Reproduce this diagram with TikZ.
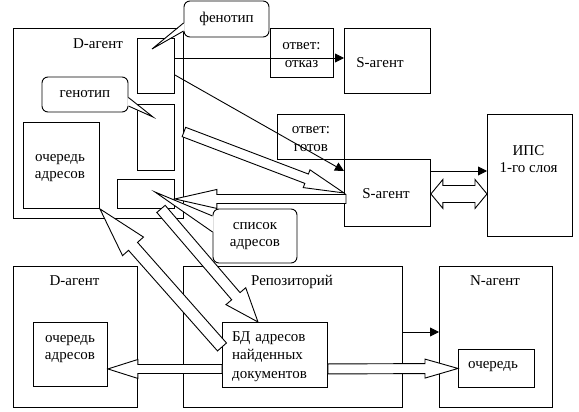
\documentclass[tikz,border=0pt]{standalone}
\usepackage{fontspec}
\setmainfont{Liberation Serif}
\usetikzlibrary{calc,arrows.meta}
\tikzset{
  box/.style={draw, line width=0.9pt, inner sep=0pt, anchor=north west},
  txt/.style={font=\fontsize{15pt}{17.5pt}\selectfont, align=center, inner sep=0pt},
  conn/.style={line width=0.9pt, -{Triangle[length=9pt,width=9pt]}},
  barrow/.style={draw, fill=white, line width=0.9pt, line join=miter},
  callout/.style={draw, fill=white, line width=0.9pt, rounded corners=6pt, inner sep=0pt,
    font=\fontsize{15pt}{17pt}\selectfont, align=center},
  wedgeline/.style={line width=0.9pt, line join=miter},
}
\newcommand\blockarr[5]{%
  \path ($(#2)!#5!(#1)$) coordinate (bab);
  \draw[barrow] ($(#1)!#3!90:(#2)$) -- ($(bab)!#3!90:(#2)$) -- ($(bab)!#4!90:(#2)$) -- (#2)
    -- ($(bab)!#4!-90:(#2)$) -- ($(bab)!#3!-90:(#2)$) -- ($(#1)!#3!-90:(#2)$) -- cycle;}
\begin{document}
\begin{tikzpicture}[x=1pt,y=-1pt]
\fill[white] (0,0) rectangle (579,412);
\useasboundingbox (0,0) rectangle (579,412);

% ---- top D-agent ----
\node[box, minimum width=170pt, minimum height=190pt] (dA) at (13,28) {};
\node[txt, anchor=base] (dAt) at (98,49) {D-агент};
\node[box, minimum width=37pt, minimum height=55pt] (phen) at (137,38) {};
\node[box, minimum width=37pt, minimum height=66pt] (gen) at (137,104) {};
\node[box, minimum width=57pt, minimum height=29pt] (sbox) at (117,179) {};
\node[box, minimum width=76pt, minimum height=86pt] (q1) at (23,122) {};
\node[txt] (q1t) at (60,168) {очередь\\адресов};

% ---- S-agents, answers, IPS ----
\node[box, minimum width=63pt, minimum height=49pt] (otk) at (270,28) {};
\node[txt] (otkt) at (301.5,55) {ответ:\\отказ};
\node[box, minimum width=86pt, minimum height=65pt] (S1) at (344,28) {};
\node[txt, anchor=base] (S1t) at (380,68) {S-агент};
\node[box, minimum width=67pt, minimum height=45pt] (got) at (277,114) {};
\node[txt] (gott) at (311,139) {ответ:\\готов};
\node[box, minimum width=86pt, minimum height=67pt] (S2) at (344,159) {};
\node[txt, anchor=base] (S2t) at (386,198) {S-агент};
\node[box, minimum width=85pt, minimum height=122pt] (IPS) at (487,114) {};
\node[txt] (IPSt) at (528.5,159) {ИПС\\1-го слоя};

% ---- bottom row ----
\node[box, minimum width=124pt, minimum height=141pt] (dB) at (13,266) {};
\node[txt, anchor=base] (dBt) at (74.5,285) {D-агент};
\node[box, minimum width=74pt, minimum height=64pt] (q2) at (33,322) {};
\node[txt] (q2t) at (70,349) {очередь\\адресов};
\node[box, minimum width=219pt, minimum height=141pt] (repo) at (183,266) {};
\node[txt, anchor=base] (repot) at (292,285) {Репозиторий};
\node[box, minimum width=105pt, minimum height=65pt] (BD) at (222,322) {};
\node[txt, anchor=north west, align=left, text width=84pt, font=\fontsize{15pt}{18.5pt}\selectfont] (BDt) at (232,331)
  {\makebox[82pt][s]{БД адресов}\\найденных\\документов};
\node[box, minimum width=113pt, minimum height=141pt] (N) at (439,266) {};
\node[txt, anchor=base] (Nt) at (495,285) {N-агент};
\node[box, minimum width=76pt, minimum height=38pt] (q3) at (458,349) {};
\node[txt] (q3t) at (493,367) {очередь};

% ---- thin connectors ----
\coordinate (t1) at ([yshift=-20pt]phen.north east);
\draw[conn] (t1) -- (t1 -| S1.west);
\coordinate (t2a) at ([yshift=-37pt]phen.north east);
\coordinate (t2b) at ([yshift=-12pt]S2.north west);
\draw[conn] (t2a) -- (t2b);
\coordinate (t3) at ([yshift=-12pt]S2.north east);
\draw[conn] (t3) -- (t3 -| IPS.west);
\coordinate (t4) at ([yshift=-66pt]repo.north east);
\draw[conn] (t4) -- (t4 -| N.west);

% ---- block arrows ----
\coordinate (aCs) at ([yshift=-104pt]dA.north east);
\blockarr{aCs}{S2.west}{5pt}{9.5pt}{40pt}
\coordinate (aDs) at ([xshift=2pt,yshift=-6pt]S2.west);
\coordinate (aDt) at (sbox.east |- aDs);
\blockarr{aDs}{aDt}{4.5pt}{9.5pt}{42pt}
\coordinate (aAs) at ([xshift=44pt]sbox.south west);
\coordinate (aAt) at ([xshift=36pt]BD.north west);
\blockarr{aAs}{aAt}{5.5pt}{13pt}{34pt}
\coordinate (aBs) at ([yshift=8pt]BD.west);
\blockarr{aBs}{q1.south east}{6pt}{14pt}{50pt}
\coordinate (aFs) at ([yshift=-14pt]BD.west);
\coordinate (aFt) at (q2.east |- aFs);
\blockarr{aFs}{aFt}{4.5pt}{9.5pt}{30pt}
\coordinate (aGs) at (BD.east |- aFs);
\blockarr{aGs}{q3.west}{5pt}{9.5pt}{33pt}
% double arrow S-agent <-> IPS
\coordinate (eL) at ([yshift=-1pt]S2.east);
\coordinate (eR) at (eL -| IPS.west);
\draw[barrow] (eL) -- ($(eL)+(12,-14.5)$) -- ($(eL)+(12,-8.5)$) -- ($(eR)+(-12,-8.5)$) -- ($(eR)+(-12,-14.5)$)
  -- (eR) -- ($(eR)+(-12,14.5)$) -- ($(eR)+(-12,8.5)$) -- ($(eL)+(12,8.5)$) -- ($(eL)+(12,14.5)$) -- cycle;

% ---- callouts ----
\node[callout, minimum width=85pt, minimum height=36pt] (phc) at (226.5,19) {фенотип};
\coordinate (phtip) at (152,49);
\fill[white] ([xshift=1pt,yshift=-4pt]phc.west) -- (phtip) -- ([xshift=1pt,yshift=-12pt]phc.west) -- cycle;
\draw[wedgeline] ([yshift=-4pt]phc.west) -- (phtip) -- ([yshift=-12pt]phc.west);

\node[callout, minimum width=86pt, minimum height=35pt] (gnc) at (85,94.5) {генотип};
\coordinate (gntip) at (153,117);
\fill[white] ([xshift=-1pt,yshift=-3pt]gnc.east) -- (gntip) -- ([xshift=-1pt,yshift=-11.5pt]gnc.east) -- cycle;
\draw[wedgeline] ([yshift=-3pt]gnc.east) -- (gntip) -- ([yshift=-11.5pt]gnc.east);

\node[callout, minimum width=84pt, minimum height=54pt] (lsc) at (255,236) {список\\адресов};
\coordinate (lstip) at (155,192);
\fill[white] ([xshift=1pt,yshift=20pt]lsc.west) -- (lstip) -- ([xshift=1pt,yshift=4pt]lsc.west) -- cycle;
\draw[wedgeline] ([yshift=20pt]lsc.west) -- (lstip) -- ([yshift=4pt]lsc.west);
\end{tikzpicture}
\end{document}
